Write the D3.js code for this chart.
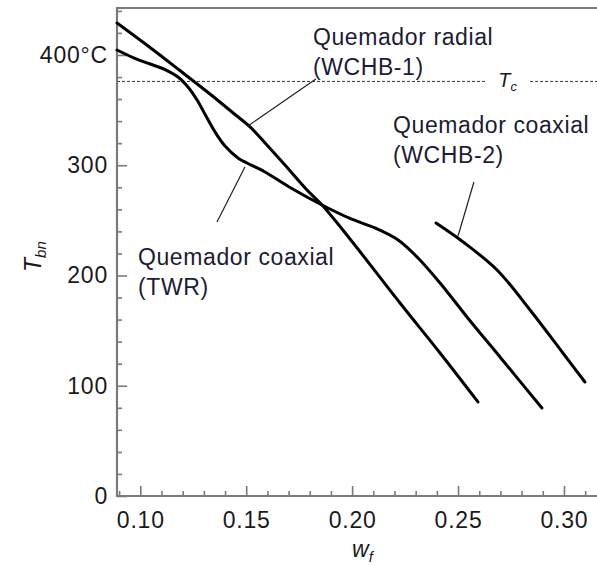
<!DOCTYPE html>
<html>
<head>
<meta charset="utf-8">
<script src="https://cdn.jsdelivr.net/npm/d3@7"></script>
<style>
  html, body { margin: 0; padding: 0; background: #fff; }
  svg { display: block; }
  text { font-family: "Liberation Sans", Arial, Helvetica, sans-serif; }
</style>
</head>
<body>
<svg id="chart" width="597" height="566"></svg>
<script>
// ---- Data (w_f, T_bn) ----
const radialW = [0.0890, 0.1046, 0.1187, 0.1329, 0.1447, 0.1518, 0.1589, 0.1683, 0.1787, 0.1858, 0.1990, 0.2226, 0.2415, 0.2594];
const radialT = [429.0, 406.8, 385.9, 364.6, 346.0, 334.7, 320.2, 300.2, 277.5, 263.9, 233.1, 175.0, 129.7, 85.3];

const twrW = [0.0890, 0.0966, 0.1046, 0.1117, 0.1178, 0.1225, 0.1268, 0.1310, 0.1353, 0.1400, 0.1461, 0.1527, 0.1589, 0.1707, 0.1858, 0.1990, 0.2108, 0.2217, 0.2311, 0.2415, 0.2542, 0.2698, 0.2896];
const twrT = [404.5, 397.7, 391.8, 386.8, 380.0, 370.9, 359.1, 344.6, 330.1, 317.4, 306.6, 299.8, 293.9, 279.8, 263.9, 251.7, 243.1, 232.2, 215.9, 193.2, 162.4, 126.1, 79.8];

const wchb2W = [0.2396, 0.2524, 0.2684, 0.2840, 0.2995, 0.3099];
const wchb2T = [247.6, 230.4, 205.0, 168.7, 129.7, 103.4];

const Tc = 376;

const xMajorTicks = [0.10, 0.15, 0.20, 0.25, 0.30];
const xMinorTicks = [0.09, 0.11, 0.12, 0.13, 0.14, 0.16, 0.17, 0.18, 0.19, 0.21, 0.22, 0.23, 0.24, 0.26, 0.27, 0.28, 0.29, 0.31];
const yMajorTicks = [0, 100, 200, 300, 400];
const yMinorTicks = [20, 40, 60, 80, 120, 140, 160, 180, 220, 240, 260, 280, 320, 340, 360, 380, 420, 440];
const yTickLabels = ["0", "100", "200", "300", "400°C"];

// annotation texts (lines) and anchor points in data units
const annoLines = [
  ["Quemador radial", "(WCHB-1)"],
  ["Quemador coaxial", "(WCHB-2)"],
  ["Quemador coaxial", "(TWR)"]
];
const annoPos = [[0.1815, 409.0], [0.2193, 329.0], [0.0989, 209.5]];
const leaderFrom = [[0.1829, 378.2], [0.2575, 284.8], [0.1494, 298.4]];
const leaderTo = [[0.1508, 335.6], [0.2500, 235.8], [0.1362, 248.5]];

// ---- Chart ----
const svg = d3.select("#chart");
const x = d3.scaleLinear().domain([0.089, 0.3156]).range([117, 597]);
const y = d3.scaleLinear().domain([0, 442.6]).range([496, 8]);

const axisColor = "#7a7a7a";
const textColor = "#1a1a1a";
const fs = 23;

// Tc dashed line (broken around the label)
const tcGapStart = 0.2627, tcGapEnd = 0.2840;
[[x.domain()[0], tcGapStart], [tcGapEnd, x.domain()[1]]].forEach(seg => {
  svg.append("line")
    .attr("x1", x(seg[0])).attr("x2", x(seg[1]))
    .attr("y1", y(Tc)).attr("y2", y(Tc))
    .attr("stroke", "#333").attr("stroke-width", 1)
    .attr("stroke-dasharray", "3,2");
});
const tcLabel = svg.append("text")
  .attr("x", x(0.2690)).attr("y", y(Tc) + 6)
  .attr("font-size", 20).attr("font-style", "italic").attr("fill", textColor);
tcLabel.append("tspan").text("T");
tcLabel.append("tspan").attr("font-size", 13).attr("dy", 4).text("c");

// Axes
const gx = svg.append("g").attr("transform", `translate(0,${y(0)})`);
gx.call(d3.axisBottom(x).tickValues(xMinorTicks).tickSizeInner(-5).tickSizeOuter(0).tickFormat(""));
gx.call(g => g.selectAll(".domain").remove());
const gx2 = svg.append("g").attr("transform", `translate(0,${y(0)})`);
gx2.call(d3.axisBottom(x).tickValues(xMajorTicks).tickSizeInner(-10).tickSizeOuter(0)
  .tickPadding(16).tickFormat(d3.format(".2f")));
gx2.select(".domain").remove();

const gy = svg.append("g").attr("transform", `translate(${x.range()[0]},0)`);
gy.call(d3.axisLeft(y).tickValues(yMinorTicks).tickSizeInner(-5).tickSizeOuter(0).tickFormat(""));
gy.select(".domain").remove();
const gy2 = svg.append("g").attr("transform", `translate(${x.range()[0]},0)`);
gy2.call(d3.axisLeft(y).tickValues(yMajorTicks).tickSizeInner(-10).tickSizeOuter(0)
  .tickPadding(9).tickFormat((d, i) => yTickLabels[i]));
gy2.select(".domain").remove();

svg.selectAll(".tick line").attr("stroke", axisColor).attr("stroke-width", 1.6);
svg.selectAll(".tick text").attr("font-size", fs).attr("fill", textColor)
  .attr("font-family", "Liberation Sans, Arial, sans-serif").attr("letter-spacing", "0.8px");

// frame lines: left, bottom, top
svg.append("line").attr("x1", x.range()[0]).attr("x2", x.range()[0])
  .attr("y1", y.range()[1]).attr("y2", y.range()[0] + 1)
  .attr("stroke", axisColor).attr("stroke-width", 2.2);
svg.append("line").attr("x1", x.range()[0] - 1).attr("x2", x.range()[1])
  .attr("y1", y(0)).attr("y2", y(0))
  .attr("stroke", axisColor).attr("stroke-width", 2.2);
svg.append("line").attr("x1", x.range()[0] - 1).attr("x2", x.range()[1])
  .attr("y1", y.range()[1]).attr("y2", y.range()[1])
  .attr("stroke", axisColor).attr("stroke-width", 2);

// Curves
const line = d3.line().x(d => x(d[0])).y(d => y(d[1])).curve(d3.curveCatmullRom.alpha(0.5));
[[radialW, radialT], [twrW, twrT], [wchb2W, wchb2T]].forEach(([ws, ts]) => {
  svg.append("path")
    .datum(ws.map((w, i) => [w, ts[i]]))
    .attr("d", line)
    .attr("fill", "none").attr("stroke", "#000").attr("stroke-width", 3)
    .attr("stroke-linecap", "round").attr("stroke-linejoin", "round");
});

// Leader lines
leaderFrom.forEach((p, i) => {
  svg.append("line")
    .attr("x1", x(p[0])).attr("y1", y(p[1]))
    .attr("x2", x(leaderTo[i][0])).attr("y2", y(leaderTo[i][1]))
    .attr("stroke", "#222").attr("stroke-width", 1.2);
});

// Annotation texts
annoLines.forEach((lines, i) => {
  const t = svg.append("text")
    .attr("x", x(annoPos[i][0])).attr("y", y(annoPos[i][1]))
    .attr("font-size", fs).attr("fill", "#1c1c34").attr("letter-spacing", "0.6px");
  lines.forEach((s, j) => {
    t.append("tspan").attr("x", x(annoPos[i][0])).attr("dy", j === 0 ? 0 : 30).text(s);
  });
});

// Axis titles
const xt = svg.append("text").attr("x", 352).attr("y", 557)
  .attr("font-size", fs).attr("font-style", "italic").attr("fill", textColor);
xt.append("tspan").text("w");
xt.append("tspan").attr("font-size", 15).attr("dy", 5).text("f");

const yt = svg.append("text")
  .attr("transform", "translate(41,272) rotate(-90)")
  .attr("font-size", fs).attr("font-style", "italic").attr("fill", textColor);
yt.append("tspan").text("T");
yt.append("tspan").attr("font-size", 15).attr("dy", 5).text("bn");
</script>
</body>
</html>
